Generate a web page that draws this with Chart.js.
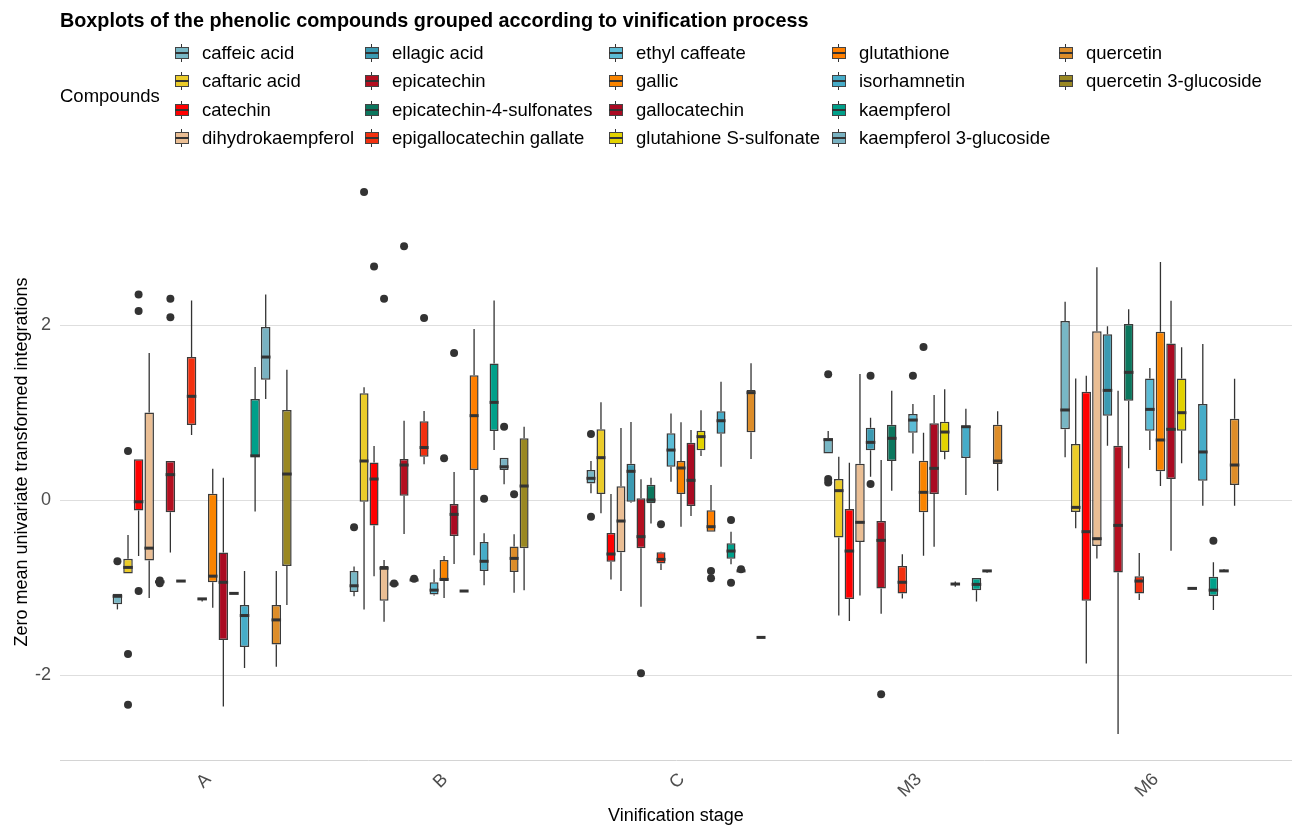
<!DOCTYPE html>
<html>
<head>
<meta charset="utf-8">
<title>Phenolic compounds boxplots</title>
<script src="https://cdn.jsdelivr.net/npm/chart.js@4.4.0/dist/chart.umd.min.js"></script>
<style>
    html, body { margin: 0; padding: 0; background: #ffffff; }
    #wrap { position: relative; width: 1292px; height: 835px; font-family: "Liberation Sans", Arial, sans-serif; color: #000; }
    #chart { position: absolute; left: 0; top: 0; }
    #title { position: absolute; left: 60px; top: 9px; font-size: 19.8px; font-weight: bold; white-space: nowrap; }
    #legendTitle { position: absolute; left: 60px; top: 84px; font-size: 18.5px; line-height: 24px; }
    .item { position: absolute; height: 24px; line-height: 24px; font-size: 18.5px; white-space: nowrap; }
    .key { position: absolute; left: -27px; top: 3px; width: 14px; height: 18px; }
    .key .wh { position: absolute; left: 6px; top: 0; width: 1px; height: 18px; background: #333; }
    .key .bx { position: absolute; left: 0; top: 3px; width: 12px; height: 10px; border: 1px solid #444; }
    .key .md { position: absolute; left: 0; top: 8px; width: 14px; height: 2px; background: #333; }
</style>
</head>
<body>
<div id="wrap">
    <canvas id="chart" width="1292" height="835"></canvas>
    <div id="title">Boxplots of the phenolic compounds grouped according to vinification process</div>
    <div id="legendTitle">Compounds</div>
    <div id="legend"></div>
</div>
<script>
// Vinification stages and compounds
const stages = ['A', 'B', 'C', 'M3', 'M6'];
const compounds = ['caffeic acid', 'caftaric acid', 'catechin', 'dihydrokaempferol', 'ellagic acid',
    'epicatechin', 'epicatechin-4-sulfonates', 'epigallocatechin gallate', 'ethyl caffeate', 'gallic',
    'gallocatechin', 'glutahione S-sulfonate', 'glutathione', 'isorhamnetin', 'kaempferol',
    'kaempferol 3-glucoside', 'quercetin', 'quercetin 3-glucoside'];
const colors = ['#78B7C5', '#EBCC2A', '#FF0000', '#EABE94', '#3B9AB2',
    '#B40F20', '#0B775E', '#F2300F', '#5BBCD6', '#F98400',
    '#AA0A22', '#E2D200', '#FF7F00', '#46ACC8', '#00A08A',
    '#79B2C2', '#DD8D29', '#9A8822'];

// [min, q1, median, q3, max] per compound (same order as compounds), null = not measured
const statsA = [
    [-1.25, -1.19, -1.10, -1.07, -1.07], [-0.84, -0.84, -0.77, -0.67, -0.40], [-0.64, -0.12, -0.02, 0.465, 0.465],
    [-1.12, -0.69, -0.55, 1.00, 1.68], [-0.935, -0.935, -0.935, -0.935, -0.935], [-0.60, -0.14, 0.29, 0.446, 0.446],
    [-0.926, -0.926, -0.926, -0.926, -0.926], [0.743, 0.857, 1.185, 1.634, 2.28], [-1.16, -1.13, -1.13, -1.13, -1.13],
    [-1.23, -0.94, -0.87, 0.072, 0.358], [-2.36, -1.60, -0.94, -0.60, 0.255], [-1.067, -1.067, -1.067, -1.067, -1.067],
    null, [-1.92, -1.68, -1.32, -1.20, -0.81], [-0.13, 0.495, 0.505, 1.154, 1.52],
    [1.154, 1.375, 1.634, 1.977, 2.35], [-1.905, -1.65, -1.37, -1.20, -0.81], [-1.20, -0.754, 0.297, 1.03, 1.49]
];
const statsB = [
    [-1.10, -1.05, -0.98, -0.81, -0.76], [-1.25, -0.02, 0.446, 1.22, 1.29], [-0.87, -0.29, 0.24, 0.43, 0.617],
    [-1.39, -1.15, -0.78, -0.754, -0.686], [-0.96, -0.96, -0.96, -0.96, -0.96], [-0.389, 0.05, 0.40, 0.469, 0.906],
    [-0.914, -0.914, -0.914, -0.914, -0.914], [0.41, 0.495, 0.60, 0.90, 1.017], [-1.09, -1.08, -1.03, -0.94, -0.79],
    [-1.12, -0.926, -0.907, -0.686, -0.64], [-0.73, -0.41, -0.164, -0.046, 0.32], [-1.04, -1.04, -1.04, -1.04, -1.04],
    [-0.63, 0.343, 0.964, 1.425, 1.954], [-0.975, -0.81, -0.70, -0.48, -0.38], [0.571, 0.79, 1.116, 1.56, 2.28],
    [0.179, 0.343, 0.38, 0.484, 0.484], [-1.06, -0.823, -0.667, -0.53, -0.39], [-1.03, -0.55, 0.16, 0.705, 0.838]
];
const statsC = [
    [0.076, 0.19, 0.248, 0.343, 0.446], [-0.152, 0.069, 0.484, 0.808, 1.116], [-0.907, -0.705, -0.617, -0.377, 0.069],
    [-1.04, -0.598, -0.24, 0.156, 0.823], [-0.03, -0.019, 0.328, 0.415, 0.891], [-1.22, -0.552, -0.419, 0.019, 0.236],
    [-0.267, -0.038, 0.0, 0.175, 0.255], [-0.80, -0.724, -0.678, -0.598, -0.59], [0.21, 0.381, 0.571, 0.762, 0.99],
    [-0.305, 0.069, 0.366, 0.446, 0.888], [-0.183, -0.069, 0.225, 0.655, 0.80], [0.503, 0.568, 0.724, 0.792, 1.025],
    [-0.362, -0.362, -0.305, -0.118, 0.171], [0.381, 0.758, 0.906, 1.014, 1.352], [-0.735, -0.67, -0.583, -0.495, -0.362],
    [-0.81, -0.81, -0.81, -0.81, -0.81], [0.469, 0.774, 1.227, 1.257, 1.562], [-1.57, -1.57, -1.57, -1.57, -1.57]
];
const statsM3 = [
    [0.533, 0.533, 0.69, 0.705, 0.789], [-1.32, -0.427, 0.107, 0.24, 0.495], [-1.383, -1.13, -0.583, -0.103, 0.427],
    [-1.09, -0.48, -0.255, 0.415, 1.44], [0.267, 0.568, 0.659, 0.827, 0.94], [-1.30, -1.01, -0.461, -0.24, 0.457],
    [0.107, 0.446, 0.705, 0.861, 1.25], [-1.124, -1.067, -0.94, -0.754, -0.62], [0.533, 0.77, 0.914, 0.983, 1.097],
    [-0.636, -0.141, 0.088, 0.449, 0.77], [-0.533, 0.069, 0.362, 0.876, 1.2], [0.465, 0.549, 0.777, 0.895, 1.265],
    [-0.99, -0.96, -0.96, -0.96, -0.93], [0.057, 0.48, 0.838, 0.846, 1.044], [-1.16, -1.03, -0.964, -0.89, -0.89],
    [-0.83, -0.81, -0.81, -0.81, -0.81], [0.107, 0.411, 0.446, 0.861, 1.014], null
];
const statsM6 = [
    [0.488, 0.808, 1.029, 2.046, 2.267], [-0.324, -0.137, -0.084, 0.64, 1.39], [-1.867, -1.15, -0.362, 1.238, 1.42],
    [-0.667, -0.526, -0.442, 1.928, 2.66], [0.621, 0.964, 1.253, 1.893, 1.985], [-2.674, -0.827, -0.29, 0.621, 1.25],
    [0.362, 1.135, 1.459, 2.011, 2.18], [-1.143, -1.067, -0.926, -0.872, -0.606], [0.571, 0.792, 1.036, 1.39, 1.509],
    [0.16, 0.328, 0.686, 1.924, 2.72], [-0.579, 0.24, 0.808, 1.79, 2.278], [0.419, 0.792, 0.998, 1.39, 1.745],
    [-1.01, -1.01, -1.01, -1.01, -1.01], [-0.065, 0.221, 0.549, 1.097, 1.783], [-1.257, -1.097, -1.03, -0.876, -0.712],
    [-0.81, -0.81, -0.81, -0.81, -0.79], [-0.065, 0.171, 0.40, 0.93, 1.387], null
];

// outlying points per compound
const outliersA = [[-0.70], [0.56, -1.76, -2.34], [2.35, 2.16, -1.04], [], [-0.95, -0.92], [2.30, 2.09],
    [], [], [], [], [], [], [], [], [], [], [], []];
const outliersB = [[-0.31], [3.52], [2.67], [2.30], [-0.955], [2.90],
    [-0.90], [2.08], [], [0.476], [1.68], [], [], [0.015], [], [0.838], [0.065], []];
const outliersC = [[0.754, -0.19], [], [], [], [], [-1.98],
    [], [-0.278], [], [], [], [], [-0.81, -0.895], [], [-0.229, -0.945], [-0.79], [], []];
const outliersM3 = [[1.436, 0.24, 0.20], [], [], [], [1.42, 0.183], [-2.22],
    [], [], [1.42], [1.75], [], [], [], [], [], [], [], []];
const outliersM6 = [[], [], [], [], [], [],
    [], [], [], [], [], [], [], [], [-0.465], [], [], []];

const stats = [statsA, statsB, statsC, statsM3, statsM6];
const outliers = [outliersA, outliersB, outliersC, outliersM3, outliersM6];

// whiskers, medians and outliers around the floating bars
const boxParts = {
    id: 'boxParts',
    beforeDatasetsDraw(chart) {
        const ctx = chart.ctx;
        const yScale = chart.scales.y;
        ctx.save();
        ctx.strokeStyle = '#333333';
        ctx.lineWidth = 1.3;
        chart.data.datasets.forEach((ds, i) => {
            chart.getDatasetMeta(i).data.forEach((bar, j) => {
                const s = stats[j][i];
                if (!s) return;
                ctx.beginPath();
                ctx.moveTo(bar.x, yScale.getPixelForValue(s[0]));
                ctx.lineTo(bar.x, yScale.getPixelForValue(s[1]));
                ctx.moveTo(bar.x, yScale.getPixelForValue(s[3]));
                ctx.lineTo(bar.x, yScale.getPixelForValue(s[4]));
                ctx.stroke();
            });
        });
        ctx.restore();
    },
    afterDatasetsDraw(chart) {
        const ctx = chart.ctx;
        const yScale = chart.scales.y;
        ctx.save();
        chart.data.datasets.forEach((ds, i) => {
            chart.getDatasetMeta(i).data.forEach((bar, j) => {
                const s = stats[j][i];
                if (!s) return;
                const half = bar.width / 2;
                const ym = yScale.getPixelForValue(s[2]);
                ctx.fillStyle = '#333333';
                ctx.fillRect(bar.x - half, ym - 1.5, bar.width, 3);
                outliers[j][i].forEach(v => {
                    ctx.beginPath();
                    ctx.arc(bar.x, yScale.getPixelForValue(v), 4, 0, Math.PI * 2);
                    ctx.fill();
                });
            });
        });
        ctx.restore();
    }
};

const datasets = compounds.map((name, i) => ({
    label: name,
    data: stages.map((st, j) => ({
        x: j + 1,
        y: stats[j][i] ? [stats[j][i][1], stats[j][i][3]] : null
    })),
    backgroundColor: colors[i],
    borderColor: '#3a3a3a',
    borderWidth: 1.5,
    borderSkipped: false,
    skipNull: true,
    categoryPercentage: 0.76,
    barPercentage: 0.9
}));

new Chart(document.getElementById('chart').getContext('2d'), {
    type: 'bar',
    data: { datasets: datasets },
    options: {
        responsive: false,
        animation: false,
        devicePixelRatio: 1,
        layout: { padding: { top: 164, left: 0, right: 0, bottom: 0 } },
        plugins: {
            legend: { display: false },
            tooltip: { enabled: false }
        },
        scales: {
            x: {
                type: 'linear',
                min: 0.4,
                max: 5.6,
                offset: false,
                grid: { display: false, drawTicks: false },
                border: { display: true, color: '#d4d4d4', width: 1 },
                afterBuildTicks: scale => { scale.ticks = stages.map((st, k) => ({ value: k + 1 })); },
                afterFit: scale => { scale.height = 75; },
                ticks: {
                    autoSkip: false,
                    minRotation: 45,
                    maxRotation: 45,
                    padding: 9,
                    labelOffset: 6,
                    color: '#4d4d4d',
                    font: { family: 'Liberation Sans', size: 18 },
                    callback: v => stages[v - 1]
                },
                title: {
                    display: true,
                    text: 'Vinification stage',
                    color: '#000',
                    font: { family: 'Liberation Sans', size: 18 },
                    padding: { top: 0, bottom: 8 }
                }
            },
            y: {
                min: -2.971,
                max: 3.84,
                beginAtZero: false,
                grid: { color: '#dedede', lineWidth: 1, drawTicks: false },
                border: { display: false },
                afterBuildTicks: scale => { scale.ticks = [-2, 0, 2].map(v => ({ value: v })); },
                afterFit: scale => { scale.width = 60; },
                ticks: {
                    padding: 9,
                    color: '#4d4d4d',
                    font: { family: 'Liberation Sans', size: 18 }
                },
                title: {
                    display: true,
                    text: 'Zero mean univariate transformed integrations',
                    color: '#000',
                    font: { family: 'Liberation Sans', size: 18 },
                    padding: { top: 11, bottom: 0 }
                }
            }
        }
    },
    plugins: [boxParts]
});

// legend: 5 columns, filled top to bottom
const legendX = [202, 392, 636, 859, 1086];
const legendY = [41, 69, 98, 126];
const legend = document.getElementById('legend');
compounds.forEach((name, k) => {
    const item = document.createElement('div');
    item.className = 'item';
    item.style.left = legendX[Math.floor(k / 4)] + 'px';
    item.style.top = legendY[k % 4] + 'px';
    item.innerHTML = '<div class="key"><div class="wh"></div><div class="bx" style="background:' + colors[k] +
        '"></div><div class="md"></div></div>' + name;
    legend.appendChild(item);
});
</script>
</body>
</html>
